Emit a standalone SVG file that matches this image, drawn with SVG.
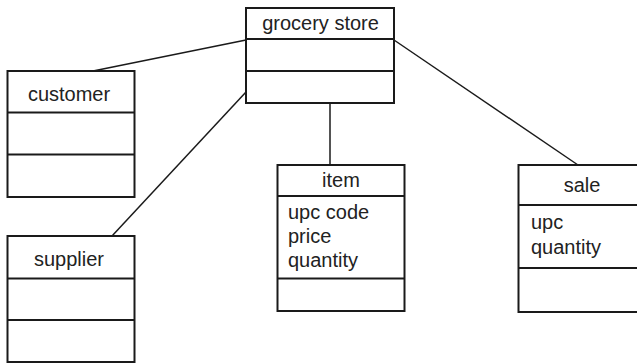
<svg xmlns="http://www.w3.org/2000/svg" width="637" height="363" viewBox="0 0 637 363">
<style>
.box{fill:#fff;stroke:#1a1a1a;stroke-width:2}
.div{stroke:#1a1a1a;stroke-width:2}
.conn{stroke:#1a1a1a;stroke-width:1.5;fill:none}
text{font-family:"Liberation Sans",Arial,sans-serif;font-size:20px;fill:#222}
.c{text-anchor:middle}
</style>
<rect width="637" height="363" fill="#fff"/>
<g id="connectors">
<line class="conn" x1="246" y1="40" x2="93" y2="71"/>
<line class="conn" x1="246" y1="92" x2="112" y2="236"/>
<line class="conn" x1="330" y1="103" x2="330" y2="165"/>
<line class="conn" x1="394" y1="40" x2="578" y2="165"/>
</g>
<g id="grocery-store">
<rect class="box" x="246" y="8" width="148" height="95"/>
<line class="div" x1="246" y1="39" x2="394" y2="39"/>
<line class="div" x1="246" y1="71" x2="394" y2="71"/>
<text class="c" x="320.5" y="30">grocery store</text>
</g>
<g id="customer">
<rect class="box" x="7.5" y="71" width="127" height="126"/>
<line class="div" x1="7.5" y1="112.5" x2="134.5" y2="112.5"/>
<line class="div" x1="7.5" y1="154.5" x2="134.5" y2="154.5"/>
<text class="c" x="69" y="101">customer</text>
</g>
<g id="supplier">
<rect class="box" x="7.5" y="236" width="127" height="126"/>
<line class="div" x1="7.5" y1="278.5" x2="134.5" y2="278.5"/>
<line class="div" x1="7.5" y1="320" x2="134.5" y2="320"/>
<text class="c" x="69" y="266">supplier</text>
</g>
<g id="item">
<rect class="box" x="277.5" y="165" width="127" height="146"/>
<line class="div" x1="277.5" y1="196" x2="404.5" y2="196"/>
<line class="div" x1="277.5" y1="278.5" x2="404.5" y2="278.5"/>
<text class="c" x="341" y="187">item</text>
<text x="288" y="219">upc code</text>
<text x="288" y="243">price</text>
<text x="288" y="267">quantity</text>
</g>
<g id="sale">
<rect class="box" x="518.5" y="165" width="127" height="147"/>
<line class="div" x1="518.5" y1="205" x2="645.5" y2="205"/>
<line class="div" x1="518.5" y1="268" x2="645.5" y2="268"/>
<text class="c" x="582" y="192">sale</text>
<text x="531" y="229">upc</text>
<text x="531" y="254">quantity</text>
</g>
</svg>
